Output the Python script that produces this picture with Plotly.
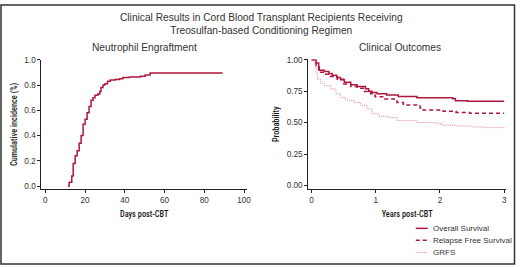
import plotly.graph_objects as go

# Neutrophil engraftment (cumulative incidence)
neut_days = [11.3, 12, 13.3, 14, 15, 16, 17, 18, 19, 20, 21, 22, 23, 24, 25, 26.4, 27.4, 28, 29, 30, 31.3, 32.7, 35, 37.3, 39, 42.3, 47.8, 50.2, 52.7, 89.2]
neut_ci = [0.0, 0.03, 0.08, 0.18, 0.24, 0.28, 0.34, 0.40, 0.49, 0.53, 0.58, 0.63, 0.68, 0.70, 0.72, 0.73, 0.75, 0.78, 0.80, 0.81, 0.83, 0.84, 0.845, 0.85, 0.86, 0.865, 0.87, 0.88, 0.895, 0.895]

# Clinical outcomes
os_t = [0, 0.07, 0.11, 0.12, 0.2, 0.27, 0.32, 0.39, 0.45, 0.51, 0.61, 0.71, 0.84, 0.89, 0.94, 1.02, 1.17, 1.35, 1.64, 2.2, 2.24, 2.43, 3.0]
os_p = [1.0, 0.974, 0.94, 0.917, 0.907, 0.89, 0.876, 0.858, 0.84, 0.82, 0.80, 0.786, 0.77, 0.75, 0.74, 0.73, 0.72, 0.708, 0.697, 0.69, 0.674, 0.669, 0.669]

rfs_t = [0, 0.07, 0.11, 0.2, 0.27, 0.4, 0.5, 0.61, 0.71, 0.81, 0.92, 0.99, 1.12, 1.33, 1.43, 1.69, 1.74, 2.05, 2.25, 2.46, 3.0]
rfs_p = [1.0, 0.95, 0.90, 0.884, 0.866, 0.845, 0.806, 0.786, 0.773, 0.747, 0.73, 0.705, 0.687, 0.66, 0.64, 0.617, 0.60, 0.59, 0.58, 0.574, 0.574]

grfs_t = [0, 0.05, 0.07, 0.09, 0.14, 0.2, 0.3, 0.38, 0.45, 0.53, 0.66, 0.76, 0.86, 0.94, 1.05, 1.2, 1.33, 1.64, 1.95, 2.02, 2.25, 2.51, 2.67, 3.0]
grfs_p = [1.0, 0.96, 0.897, 0.845, 0.814, 0.793, 0.767, 0.729, 0.70, 0.677, 0.66, 0.638, 0.61, 0.57, 0.55, 0.54, 0.516, 0.50, 0.494, 0.48, 0.473, 0.465, 0.46, 0.463]

left_ticks = [0, 20, 40, 60, 80, 100]
left_yticks = [0.0, 0.2, 0.4, 0.6, 0.8, 1.0]
right_ticks = [0, 1, 2, 3]
right_yticks = [0.0, 0.25, 0.5, 0.75, 1.0]

series_names = ["Overall Survival", "Relapse Free Survival", "GRFS"]

RED = "#b0173c"
PINK = "#e5879f"
TXT = "#333333"
NARROW = "Roboto Condensed, Noto Sans Condensed, DejaVu Sans Condensed"
SANS = "Liberation Sans, Arial, Helvetica, sans-serif"

W, H = 520, 267
def px(x):
    return x / W
def py(y):
    return 1 - y / H

styles = [dict(color=RED, width=1.5, dash="solid"),
          dict(color=RED, width=1.5, dash="4px,3px"),
          dict(color=PINK, width=1, dash="1px,1px")]

fig = go.Figure()
fig.add_trace(go.Scatter(x=neut_days, y=neut_ci, mode="lines", line=dict(color=RED, width=1.5, shape="hv"),
                         xaxis="x", yaxis="y", showlegend=False))
for name, t, p, st in zip(series_names, [os_t, rfs_t, grfs_t], [os_p, rfs_p, grfs_p], styles):
    fig.add_trace(go.Scatter(x=t, y=p, mode="lines", name=name, showlegend=False,
                             line=dict(st, shape="hv"), xaxis="x2", yaxis="y2"))

ax_common = dict(showgrid=False, zeroline=False, showline=True, linecolor="#222", linewidth=1,
                 ticks="outside", ticklen=3, tickcolor="#222", tickfont=dict(family=SANS, size=8.2, color=TXT))
tfont = dict(family=NARROW, size=8.3, color="#1a1a1a", weight=500)

shapes = [dict(type="rect", xref="paper", yref="paper", x0=px(1), y0=py(266), x1=px(518.5), y1=py(1),
               line=dict(color="#333", width=1.5))]
annotations = [
    dict(text="Clinical Results in Cord Blood Transplant Recipients Receiving<br>Treosulfan-based Conditioning Regimen",
         x=px(264), y=py(20.5), xref="paper", yref="paper", xanchor="center", yanchor="middle",
         showarrow=False, font=dict(family=SANS, size=10.2, color=TXT)),
    dict(text="Neutrophil Engraftment", x=px(145.5), y=py(44), xref="paper", yref="paper",
         xanchor="center", yanchor="middle", showarrow=False, font=dict(family=SANS, size=10.2, color=TXT)),
    dict(text="Clinical Outcomes", x=px(403), y=py(44), xref="paper", yref="paper",
         xanchor="center", yanchor="middle", showarrow=False, font=dict(family=SANS, size=10.2, color=TXT)),
]
# manual legend (below the right panel)
for i, (name, st) in enumerate(zip(series_names, styles)):
    yy = 229.5 + i * 12.3
    shapes.append(dict(type="line", xref="paper", yref="paper", x0=px(419), x1=px(431), y0=py(yy), y1=py(yy),
                       line=st))
    annotations.append(dict(text=name, x=px(434.5), y=py(yy), xref="paper", yref="paper", xanchor="left",
                            yanchor="middle", showarrow=False, font=dict(family=SANS, size=8, color=TXT)))

fig.update_layout(
    width=W, height=H, autosize=False,
    margin=dict(l=0, r=0, t=0, b=0, pad=0),
    paper_bgcolor="white", plot_bgcolor="white",
    showlegend=False,
    xaxis=dict(ax_common, domain=[0.0802, 0.4788], range=[-2, 101.5], tickvals=left_ticks,
               ticktext=[str(v) for v in left_ticks], anchor="y",
               title=dict(text="Days post-CBT", font=tfont, standoff=7)),
    yaxis=dict(ax_common, domain=[0.291, 0.787], range=[-0.0233, 1.002], tickvals=left_yticks,
               ticktext=["%.1f" % v for v in left_yticks], anchor="x",
               title=dict(text="Cumulative incidence (%)", font=tfont, standoff=5)),
    xaxis2=dict(ax_common, domain=[0.5975, 0.9808], range=[-0.051, 3.03], tickvals=right_ticks,
                ticktext=[str(v) for v in right_ticks], anchor="y2",
                title=dict(text="Years post-CBT", font=tfont, standoff=7)),
    yaxis2=dict(ax_common, domain=[0.291, 0.7876], range=[-0.028, 1.002], tickvals=right_yticks,
                ticktext=["%.2f" % v for v in right_yticks], anchor="x2",
                title=dict(text="Probability", font=tfont, standoff=5)),
    annotations=annotations,
    shapes=shapes,
)

fig.write_html(
    "out.html",
    config={"responsive": False, "displayModeBar": False, "staticPlot": True},
    default_width="520px", default_height="267px",
    post_script=("document.documentElement.style.margin='0';document.documentElement.style.overflow='hidden';"
                 "document.body.style.margin='0';document.body.style.padding='0';document.body.style.overflow='hidden';"),
)
